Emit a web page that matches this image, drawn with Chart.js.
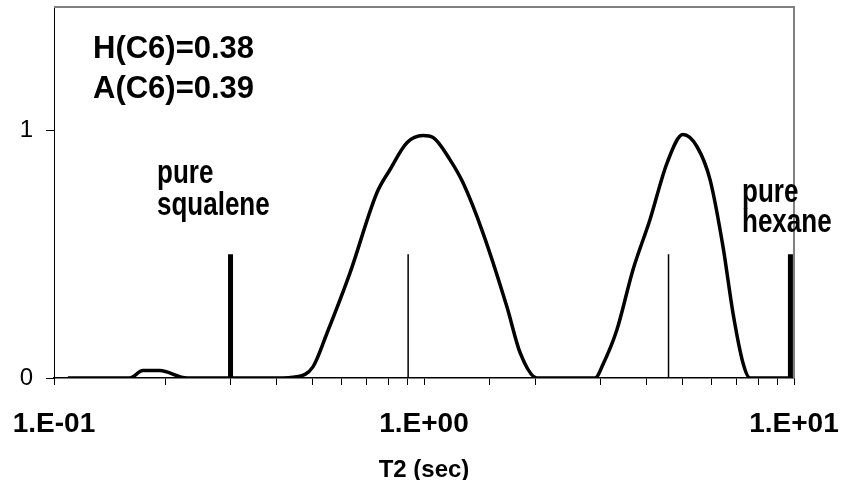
<!DOCTYPE html>
<html>
<head>
<meta charset="utf-8">
<script src="https://cdn.jsdelivr.net/npm/chart.js@4.4.1/dist/chart.umd.min.js"></script>
<style>
  html, body { margin: 0; padding: 0; background: #fff; }
  #wrap { width: 843px; height: 480px; }
</style>
</head>
<body>
<div id="wrap"><canvas id="t2Chart"></canvas></div>
<script>
// T2 distribution
const t2Sec = [0.109, 0.16, 0.174, 0.193, 0.229, 0.3, 0.4, 0.453, 0.501, 0.547, 0.631, 0.746, 0.809,
  0.899, 0.994, 1.058, 1.175, 1.275, 1.443, 1.676, 1.82, 2.02, 2.5, 2.9, 3.05, 3.32, 3.67,
  4.08, 4.54, 5.01, 5.47, 5.93, 6.43, 6.84, 7.28, 7.6, 9.63];
const amplitude = [0, 0, 0.03, 0.03, 0, 0, 0, 0.005, 0.045, 0.182, 0.425, 0.749, 0.842,
  0.951, 0.98, 0.972, 0.883, 0.789, 0.587, 0.287, 0.101, 0, 0, 0, 0.057, 0.194, 0.437,
  0.64, 0.87, 0.984, 0.935, 0.802, 0.53, 0.263, 0.061, 0, 0];

// reference sticks
const pureT2 = [0.3, 9.78];         // pure squalene, pure hexane
const componentT2 = [0.906, 4.58];
const stickHeight = 0.5;

const xTickValues = [0.1, 1, 10];
const xTickLabels = ['1.E-01', '1.E+00', '1.E+01'];
const yTickValues = [0, 1];

const notes = ['H(C6)=0.38', 'A(C6)=0.39'];

const FONT = "'Liberation Sans', Arial, sans-serif";

function sticks(list) {
    const pts = [];
    list.forEach(t => {
        pts.push({ x: t, y: 0 }, { x: t, y: stickHeight }, { x: t, y: null });
    });
    return pts;
}

// stretched text helper (reference text is taller than wide)
function drawText(ctx, txt, x, y, size, sy) {
    ctx.save();
    ctx.translate(x, y);
    ctx.scale(1, sy);
    ctx.font = 'bold ' + size + 'px ' + FONT;
    ctx.fillStyle = '#000';
    ctx.textAlign = 'left';
    ctx.textBaseline = 'alphabetic';
    ctx.fillText(txt, 0, 0);
    ctx.restore();
}

const framePlugin = {
    id: 'frame',
    beforeDatasetsDraw(chart) {
        const { ctx, chartArea: a } = chart;
        ctx.save();
        ctx.strokeStyle = '#808080';
        ctx.lineWidth = 2;
        ctx.beginPath();
        ctx.moveTo(a.left, a.top);
        ctx.lineTo(a.right, a.top);
        ctx.lineTo(a.right, a.bottom);
        ctx.stroke();
        ctx.restore();
    },
    afterDatasetsDraw(chart) {
        const { ctx, chartArea: a } = chart;
        drawText(ctx, notes[0], a.left + 39, 58, 31, 1.0);
        drawText(ctx, notes[1], a.left + 39, 98, 31, 1.0);
        drawText(ctx, 'pure', a.left + 103, 183, 26, 1.25);
        drawText(ctx, 'squalene', a.left + 103, 215, 26, 1.25);
        drawText(ctx, 'pure', a.left + 688, 202, 26, 1.25);
        drawText(ctx, 'hexane', a.left + 688, 232, 26, 1.25);
    }
};

const config = {
    type: 'scatter',
    data: {
        datasets: [
            {
                label: 'T2 distribution',
                data: t2Sec.map((t, i) => ({ x: t, y: amplitude[i] })),
                showLine: true,
                borderColor: '#000',
                borderWidth: 3.5,
                pointRadius: 0,
                cubicInterpolationMode: 'monotone',
                borderJoinStyle: 'round'
            },
            {
                label: 'pure',
                data: sticks(pureT2),
                showLine: true,
                spanGaps: false,
                borderColor: '#000',
                borderWidth: 5,
                pointRadius: 0
            },
            {
                label: 'components',
                data: sticks(componentT2),
                showLine: true,
                spanGaps: false,
                borderColor: '#000',
                borderWidth: 1.5,
                pointRadius: 0
            }
        ]
    },
    options: {
        responsive: true,
        maintainAspectRatio: false,
        animation: false,
        layout: { padding: { top: 7, right: 49, left: 0, bottom: 0 } },
        plugins: {
            legend: { display: false },
            tooltip: { enabled: false }
        },
        scales: {
            x: {
                type: 'logarithmic',
                min: 0.1,
                max: 10,
                border: { color: '#000', width: 1.5 },
                grid: { drawOnChartArea: false, drawTicks: true, tickLength: 7, color: '#000', lineWidth: 1 },
                ticks: {
                    autoSkip: false,
                    maxRotation: 0,
                    color: '#000',
                    padding: 22,
                    font: { family: FONT, size: 28, weight: 'bold' },
                    callback(value) {
                        const i = xTickValues.findIndex(v => Math.abs(v - value) < 1e-9);
                        return i >= 0 ? xTickLabels[i] : '';
                    }
                },
                title: {
                    display: true,
                    text: 'T2 (sec)',
                    color: '#000',
                    font: { family: FONT, size: 24, weight: 'bold', lineHeight: 0.8 },
                    padding: 0
                },
                afterFit(s) {
                    s.height = 102;
                    s.paddingLeft = 0;
                    s.paddingRight = 0;
                }
            },
            y: {
                min: 0,
                max: 1.5,
                border: { color: '#000', width: 1 },
                grid: { drawOnChartArea: false, drawTicks: true, tickLength: 8, color: '#000' },
                ticks: {
                    color: '#000',
                    padding: 13,
                    font: { family: FONT, size: 24 }
                },
                afterBuildTicks(s) { s.ticks = yTickValues.map(v => ({ value: v })); },
                afterFit(s) {
                    s.width = 54;
                    s.paddingTop = 0;
                    s.paddingBottom = 0;
                }
            }
        }
    },
    plugins: [framePlugin]
};

new Chart(document.getElementById('t2Chart').getContext('2d'), config);
</script>
</body>
</html>
